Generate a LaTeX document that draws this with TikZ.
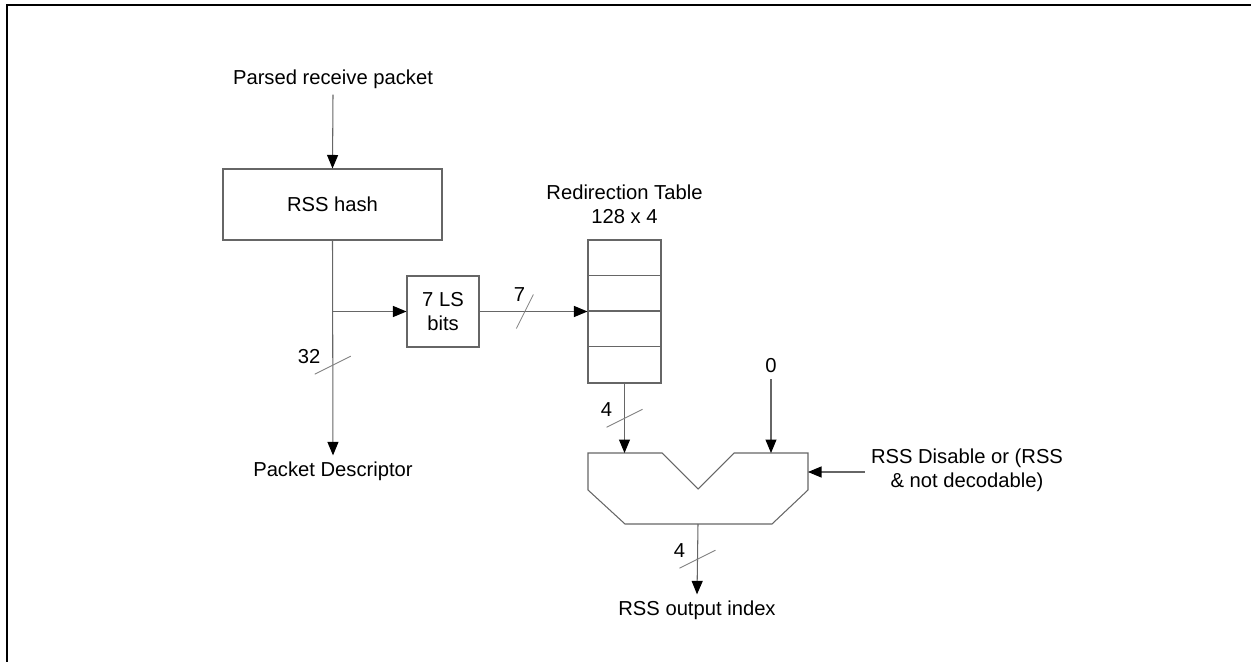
\documentclass[tikz,border=0pt]{standalone}
\usepackage{fontspec}
\setmainfont{Liberation Sans}
\usetikzlibrary{positioning, arrows.meta, calc}

\begin{document}
\begin{tikzpicture}[x=0.02cm, y=-0.02cm,
                block/.style={draw=black!60, line width=0.6pt, rectangle, inner sep=0pt, align=center, font=\fontsize{11.5}{13.6}\selectfont},
                txt/.style={align=center, font=\fontsize{11.5}{13.6}\selectfont},
                wire/.style={draw=black!60, line width=0.6pt},
                arr/.style={wire, -{Triangle[length=0.27cm, width=0.22cm, color=black]}},
                tick/.style={draw=black!50, line width=0.5pt},
                ticklabel/.style={txt, anchor=base east, inner sep=0pt},
                frame/.style={draw=black, line width=1.2pt}
            ]
            \useasboundingbox (0,0) rectangle (1251,662);
            \draw[frame] (7,662) -- (7,5) -- (1251,5);

            % nodes
            \node[txt] (prp) at (333,79) {Parsed receive packet};
            \node[block, minimum width=4.38cm, minimum height=1.42cm] (hash) at (332.5,204.5) {RSS hash};
            \node[block, minimum width=1.44cm, minimum height=1.42cm] (lsb) at (443,311.5) {7 LS\\bits};
            \node[block, minimum width=1.46cm, minimum height=2.86cm] (tbl) at (624.5,311.5) {};
            \node[txt, above=0.2cm of tbl] (tbltitle) {Redirection Table\\128 x 4};
            \node[txt] (pd) at (333,471) {Packet Descriptor};
            \node[txt] (zero) at (771,366) {0};
            \node[txt] (sel) at (967,470) {RSS Disable or (RSS\\\& not decodable)};
            \node[txt] (out) at (697,610) {RSS output index};

            % table rows
            \foreach \i in {1,2,3}
                \draw[wire] ($(tbl.north west)+(0,\i*35.75)$) -- ($(tbl.north east)+(0,\i*35.75)$);

            % mux
            \draw[wire] (588,453) -- (662,453) -- (698,489) -- (734,453) -- (808,453) -- (808,490) -- (772,524) -- (625,524) -- (588,490) -- cycle;
            \coordinate (muxin1) at (625,453);
            \coordinate (muxin0) at (771,453);
            \coordinate (muxsel) at (808,472);
            \coordinate (muxout) at (698,524);
            \coordinate (br) at (hash.south |- lsb.west);

            % edges
            \draw[arr] (prp.south) -- (hash.north);
            \draw[arr] (hash.south) -- (pd.north) coordinate[pos=0.58] (t32);
            \draw[arr] (br) -- (lsb.west);
            \draw[arr] (lsb.east) -- (tbl.west) coordinate[pos=0.42] (t7);
            \draw[arr] (tbl.south) -- (tbl.south |- muxin1) coordinate[pos=0.5] (t4a);
            \draw[arr] (zero.south) -- (muxin0);
            \draw[arr] (sel.west |- muxsel) -- (muxsel);
            \draw[arr] (muxout) -- (out.north) coordinate[pos=0.5] (t4b);

            % bus widths
            \foreach \t/\l in {t32/32, t4a/4, t4b/4} {
                \draw[tick] ($(\t)+(-18,9)$) -- ($(\t)+(18,-9)$);
                \node[ticklabel] at ($(\t)+(-12,-1.5)$) {\l};
            }
            \draw[tick] ($(t7)+(-8.5,17)$) -- ($(t7)+(8.5,-17)$);
            \node[ticklabel] at ($(t7)+(0.5,-10)$) {7};

        \end{tikzpicture}
\end{document}
